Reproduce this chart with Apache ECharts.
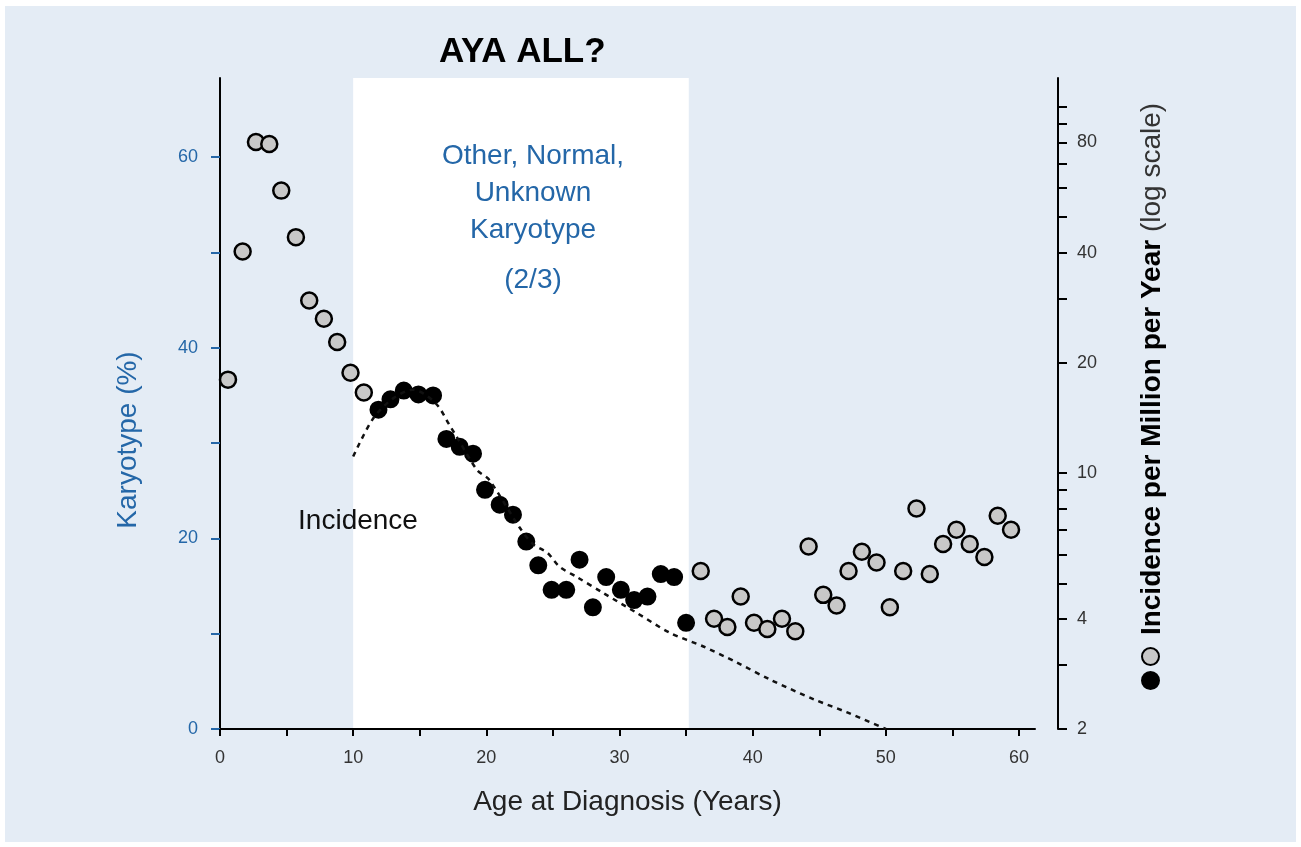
<!DOCTYPE html>
<html>
<head>
<meta charset="utf-8">
<title>AYA ALL?</title>
<script src="https://cdn.jsdelivr.net/npm/echarts@6/dist/echarts.min.js"></script>
<style>
  html, body { margin: 0; padding: 0; background: #fff; }
  #chart { position: absolute; left: 5px; top: 6px; width: 1291px; height: 836px; }
</style>
</head>
<body>
<div id="chart"></div>
<script>
// age at diagnosis (years) and incidence per million per year (log axis)
const ageChild = [0.6, 1.7, 2.7, 3.7, 4.6, 5.7, 6.7, 7.8, 8.8, 9.8, 10.8];
const incChild = [18.0, 40.3, 80.2, 79.2, 59.1, 44.1, 29.6, 26.4, 22.8, 18.8, 16.6];

const ageAya = [11.9, 12.8, 13.8, 14.9, 16.0, 17.0, 18.0, 19.0, 19.9, 21.0, 22.0, 23.0,
  23.9, 24.9, 26.0, 27.0, 28.0, 29.0, 30.1, 31.1, 32.1, 33.1, 34.1, 35.0];
const incAya = [14.9, 15.9, 16.8, 16.4, 16.3, 12.4, 11.8, 11.3, 9.0, 8.2, 7.7, 6.5,
  5.6, 4.8, 4.8, 5.8, 4.3, 5.2, 4.8, 4.5, 4.6, 5.3, 5.2, 3.9];

const ageAdult = [36.1, 37.1, 38.1, 39.1, 40.1, 41.1, 42.2, 43.2, 44.2, 45.3, 46.3, 47.2,
  48.2, 49.3, 50.3, 51.3, 52.3, 53.3, 54.3, 55.3, 56.3, 57.4, 58.4, 59.4];
const incAdult = [5.4, 4.0, 3.8, 4.6, 3.9, 3.75, 4.0, 3.7, 6.3, 4.65, 4.35, 5.4,
  6.1, 5.7, 4.3, 5.4, 8.0, 5.3, 6.4, 7.0, 6.4, 5.9, 7.65, 7.0];

// dashed "Incidence" curve
const curveAge = [10, 11.5, 13, 14.5, 16.2, 17.3, 17.7, 19.3, 20.2, 22.5, 23.5, 24.6,
  25.5, 26.8, 28.8, 31.3, 33.8, 36.3, 38.8, 41.3, 44.6, 47.1, 50];
const curveInc = [11.1, 14.1, 16.0, 16.9, 15.5, 13.4, 12.7, 10.2, 9.6, 7.1, 6.4, 6.05,
  5.55, 5.2, 4.7, 4.15, 3.66, 3.36, 3.04, 2.73, 2.41, 2.22, 2.0];

// shaded AYA band
const bandFrom = 10;
const bandTo = 35.2;

// ticks and labels
const ageTicks = [0, 5, 10, 15, 20, 25, 30, 35, 40, 45, 50, 55, 60];
const ageLabels = [0, 10, 20, 30, 40, 50, 60];
const karyoTicks = [0, 10, 20, 30, 40, 50, 60];
const karyoLabels = [0, 20, 40, 60];
const incTicks = [2, 3, 4, 5, 6, 7, 8, 9, 10, 20, 30, 40, 50, 60, 70, 80, 90, 100];
const incLabels = [2, 4, 10, 20, 40, 80];

const FONT = '"Liberation Sans", Arial, Helvetica, sans-serif';
const BLUE = '#2467a8';
const GRAY_NAME = 'Incidence (other ages)';
const AYA_NAME = 'Incidence (AYA)';

const zip = (xs, ys) => xs.map((x, i) => [x, ys[i]]);

const chart = echarts.init(document.getElementById('chart'));

const grayPoint = {
  color: '#c8c8c8',
  borderColor: '#000',
  borderWidth: 2.5,
  opacity: 1
};

chart.setOption({
  backgroundColor: '#e4ecf5',
  animation: false,
  textStyle: { fontFamily: FONT },
  title: {
    text: 'AYA ALL?',
    left: 429,
    top: 24,
    textStyle: { fontSize: 35, fontWeight: 'bold', color: '#000', fontFamily: FONT }
  },
  grid: { left: 215, top: 72, right: 261, bottom: 113, containLabel: false },
  legend: {
    orient: 'vertical',
    left: 1131,
    top: 636,
    itemWidth: 17,
    itemHeight: 17,
    itemGap: 5,
    selectedMode: false,
    formatter: () => '',
    data: [GRAY_NAME, AYA_NAME]
  },
  xAxis: {
    type: 'value',
    min: 0,
    max: 61.2,
    z: 3,
    name: 'Age at Diagnosis (Years)',
    nameLocation: 'middle',
    nameGap: 59,
    nameTextStyle: { fontSize: 28, color: '#222', fontFamily: FONT },
    axisLine: { lineStyle: { color: '#000', width: 2 } },
    axisTick: { customValues: ageTicks, length: 7, lineStyle: { color: '#000', width: 2 } },
    axisLabel: { customValues: ageLabels, fontSize: 18, color: '#333', margin: 20 },
    splitLine: { show: false }
  },
  yAxis: [
    {
      type: 'value',
      min: 0,
      max: 68.3,
      position: 'left',
      z: 3,
      axisLine: { show: true, lineStyle: { color: '#000', width: 2 } },
      axisTick: { show: true, customValues: karyoTicks, length: 9, lineStyle: { color: BLUE, width: 2 } },
      axisLabel: { customValues: karyoLabels, fontSize: 18, color: BLUE, margin: 22 },
      splitLine: { show: false }
    },
    {
      type: 'log',
      logBase: 10,
      min: 2,
      max: 120,
      position: 'right',
      offset: 23,
      z: 3,
      axisLine: { show: true, lineStyle: { color: '#000', width: 2 } },
      axisTick: { show: true, customValues: incTicks, length: 9, lineStyle: { color: '#000', width: 2 } },
      axisLabel: { customValues: incLabels, fontSize: 18, color: '#333', margin: 19 },
      splitLine: { show: false }
    }
  ],
  series: [
    {
      name: 'Incidence curve',
      type: 'line',
      yAxisIndex: 1,
      data: zip(curveAge, curveInc),
      showSymbol: false,
      smooth: 0.3,
      lineStyle: { color: '#111', width: 2.5, type: [5, 5] },
      markArea: {
        silent: true,
        itemStyle: { color: '#ffffff' },
        data: [[{ xAxis: bandFrom }, { xAxis: bandTo }]]
      }
    },
    {
      name: GRAY_NAME,
      type: 'scatter',
      yAxisIndex: 1,
      symbol: 'circle',
      symbolSize: 16,
      itemStyle: grayPoint,
      data: zip(ageChild, incChild)
    },
    {
      name: AYA_NAME,
      type: 'scatter',
      yAxisIndex: 1,
      symbol: 'circle',
      symbolSize: 16,
      itemStyle: { color: '#000', borderColor: '#000', borderWidth: 2, opacity: 1 },
      data: zip(ageAya, incAya)
    },
    {
      name: GRAY_NAME,
      type: 'scatter',
      yAxisIndex: 1,
      symbol: 'circle',
      symbolSize: 16,
      itemStyle: grayPoint,
      data: zip(ageAdult, incAdult)
    }
  ],
  graphic: [
    {
      type: 'text',
      x: 528,
      y: 187,
      z: 100,
      style: {
        text: 'Other, Normal,\nUnknown\nKaryotype',
        fill: BLUE,
        font: '28px ' + FONT,
        lineHeight: 37,
        align: 'center',
        verticalAlign: 'middle'
      }
    },
    {
      type: 'text',
      x: 528,
      y: 274,
      z: 100,
      style: {
        text: '(2/3)',
        fill: BLUE,
        font: '28px ' + FONT,
        align: 'center',
        verticalAlign: 'middle'
      }
    },
    {
      type: 'text',
      x: 353,
      y: 515,
      z: 100,
      style: {
        text: 'Incidence',
        fill: '#111',
        font: '28px ' + FONT,
        align: 'center',
        verticalAlign: 'middle'
      }
    },
    {
      type: 'text',
      x: 123,
      y: 434,
      z: 100,
      rotation: Math.PI / 2,
      style: {
        text: 'Karyotype (%)',
        fill: BLUE,
        font: '28px ' + FONT,
        align: 'center',
        verticalAlign: 'middle'
      }
    },
    {
      type: 'text',
      x: 1147,
      y: 363,
      z: 100,
      rotation: Math.PI / 2,
      style: {
        text: '{b|Incidence per Million per Year}{n| (log scale)}',
        align: 'center',
        verticalAlign: 'middle',
        rich: {
          b: { fontSize: 28, fontWeight: 'bold', fill: '#000', fontFamily: FONT },
          n: { fontSize: 28, fill: '#333', fontFamily: FONT }
        }
      }
    }
  ]
});
</script>
</body>
</html>
